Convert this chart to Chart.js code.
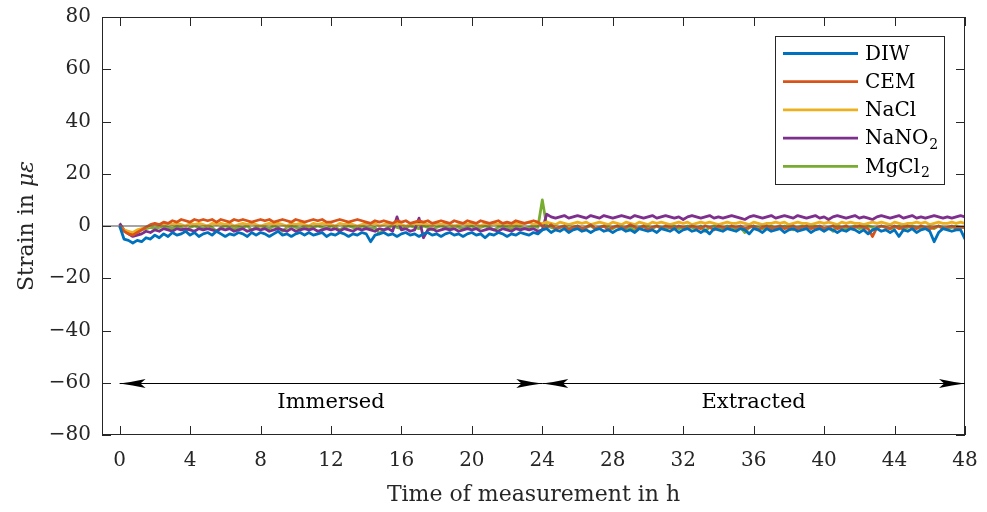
<!DOCTYPE html>
<html lang="en">
<head>
<meta charset="UTF-8">
<title>Strain over time</title>
<script src="https://cdn.jsdelivr.net/npm/chart.js"></script>
<style>
  html, body { margin: 0; padding: 0; background: #fff; }
  #wrap { width: 987px; height: 512px; }
</style>
</head>
<body>
<div id="wrap"><canvas id="myChart" width="987" height="512"></canvas></div>
<script>
// sampling: one reading every quarter hour, 0 h .. 48 h
const sampleStep = 0.25;

const seriesNames = ['DIW', 'CEM', 'NaCl', 'NaNO₂', 'MgCl₂'];

const diw = [
  0, -5, -5.5, -6.5,   -5.5, -6, -4.5, -5,   -3.5, -4.5, -3, -4,   -2.5, -3.5, -3, -2,
  -3.5, -2.5, -4, -3,  -2.5, -3.5, -2, -3,   -4, -3, -3.5, -2.5,   -3, -4, -2.5, -3.5,
  -2.5, -3, -4, -3,    -2, -3.5, -3, -4,     -3, -2.5, -3.5, -2.5, -3.5, -3, -2.5, -4,
  -3, -3.5, -2.5, -3,  -4, -3, -3.5, -2.5,   -3, -6, -3.5, -3,     -2.5, -3.5, -3, -4,
  -3, -2.5, -3.5, -3,  -4, -3, -2.5, -3.5,   -3, -4, -3, -2.5,     -3.5, -3, -4, -3,
  -2.5, -3.5, -3, -4.5, -3, -3.5, -2.5, -3,  -4, -3, -3.5, -2.5,   -3, -3.5, -2.5, -3,
  -1.5, -1, -2.5, -1.5, -2, -1, -2.5, -1.5,  -1, -2, -1.5, -2.5,   -1.5, -1, -2, -1.5,
  -2.5, -1.5, -1, -2,  -1.5, -2.5, -1, -1.5, -2, -1.5, -2.5, -1,   -1.5, -2, -1, -2.5,
  -1.5, -1, -2, -1.5,  -2.5, -1.5, -3, -1,   -1.5, -2, -1, -1.5,   -2, -1, -1.5, -3,
  -1, -1.5, -2.5, -1,  -2, -1.5, -1, -2.5,   -1.5, -1, -2, -1.5,   -1, -2.5, -1.5, -1,
  -2, -1, -1.5, -2.5,  -1.5, -2, -1, -1.5,   -2.5, -1.5, -3, -1.5, -1, -2, -1.5, -2.5,
  -1.5, -4, -1.5, -2,  -1, -2.5, -1.5, -1,   -2, -6, -2.5, -1,     -1.5, -2, -1.5, -1.5,
  -5
];

const cem = [
  0, -2, -3, -3.5,     -2.5, -1.5, -0.5, 0.5, 1, 0.5, 1.5, 1,      2, 1.5, 2.5, 2,
  1.5, 2.5, 2, 2.5,    2, 2.5, 1.5, 2.5,     2, 1.5, 2.5, 2,       2.5, 2, 1.5, 2,
  2.5, 2, 2.5, 1.5,    2, 2.5, 2, 1.5,       2.5, 2, 1.5, 2,       2.5, 2, 2.5, 1.5,
  1.5, 2, 2.5, 2,      1.5, 2, 2.5, 2,       1.5, 1, 2, 1.5,       2, 1.5, 1, 2,
  1.5, 2, 1, 1.5,      2, 1.5, 2, 1,         1.5, 2, 1.5, 1,       2, 1.5, 1, 2,
  1.5, 1, 2, 1.5,      1, 1.5, 2, 1,         1.5, 1, 2, 1.5,       1, 1.5, 2, 1.5,
  0, -0.5, 0.5, -1,    -0.5, 0, -1.5, -0.5,  0, -1, -0.5, 0.5,     -1, -0.5, 0, -1.5,
  -0.5, 0, -1, -0.5,   0.5, -0.5, -1, 0,     -1.5, -0.5, 0, -1,    0, -0.5, -1, 0,
  -0.5, -1, 0, -0.5,   -1, 0, -0.5, -1.5,    0, -0.5, -1, 0,       -0.5, 0, -1, -0.5,
  0, -1.5, -0.5, 0,    -1, -0.5, 0, -1,      -0.5, 0, -1, -0.5,    0, -1, -0.5, 0,
  -1, -0.5, 0, -1,     -0.5, 0, -1, -0.5,    0, -0.5, -1, -4,      -0.5, 0, -0.5, -1,
  0, -1, -0.5, 0,      -0.5, -1, 0, -0.5,    -1, -0.5, 0, -1,      -0.5, 0, -1, -0.5,
  -0.5
];

const nacl = [
  0, -1.5, -2, -2.5,   -1.5, -1, -0.5, 0,    0.5, 0, 0.5, 1,       0.5, 1, 0.5, 0,
  1, 0.5, 1, 0.5,      0, 1, 0.5, 1,         0.5, 1, 0, 0.5,       1, 0.5, 1, 0.5,
  0, 0.5, 1, 0.5,      1, 0.5, 0, 1,         0.5, 1, 0.5, 0,       1, 0.5, 1, 0.5,
  0.5, 0, 1, 0.5,      1, 0.5, 0, 0.5,       1, 0.5, 1, 0,         0.5, 1, 0.5, 1,
  0.5, 0, 0.5, 1,      0.5, 1, 0.5, 0,       1, 0.5, 1, 0.5,       0, 0.5, 1, 0.5,
  1, 0.5, 0, 1,        0.5, 1, 0.5, 1,       0.5, 0, 1, 0.5,       1, 1.5, 0.5, 1,
  1, 1.5, 1, 0.5,      1.5, 1, 0.5, 1,       1.5, 1, 1.5, 0.5,     1, 1.5, 1, 0.5,
  1.5, 1, 0.5, 1.5,    1, 0.5, 1.5, 1,       0.5, 1.5, 1, 1.5,     1, 0.5, 1, 1.5,
  1, 1.5, 0.5, 1,      1.5, 1, 1.5, 1,       0.5, 1, 1.5, 1,       1, 1.5, 1, 0.5,
  1.5, 1, 0.5, 1,      1, 1.5, 1, 1.5,       0.5, 1, 1.5, 1,       1, 0.5, 1, 1.5,
  1, 1.5, 1, 0.5,      1.5, 1, 1.5, 1,       1, 0.5, 1, 1.5,       1, 1.5, 1, 0.5,
  1.5, 1, 0.5, 1,      1, 1.5, 1, 1.5,       0.5, 1, 1.5, 1,       1, 1.5, 1, 1.5,
  1
];

const nano2 = [
  1, -1.5, -3, -4,     -3.5, -3, -2, -2.5,   -1.5, -2, -1, -1.5,   -2, -1, -1.5, -1,
  -1.5, -2, -1, -1.5,  -1, -1.5, -2, -1,     -1.5, -1, -2, -1.5,   -1, -2, -1.5, -1,
  -1.5, -1, -2, -1.5,  -1, -1.5, -2, -1,     -2, -1.5, -1, -1.5,   -1, -2, -1.5, -1,
  -1.5, -1, -2, -1,    -1.5, -2, -1, -1.5,   -1, -1.5, -2, -1,     -1.5, -1, -2, 3.5,
  -1.5, -1, -2, -1.5,  3, -4.5, -1.5, -1,    -2, -1.5, -1, -1.5,   -1, -2, -1.5, -1,
  -1.5, -1, -2, -1.5,  -1, -1.5, -2, -1,     -1.5, -2, -1, -1.5,   -1, -1.5, -1, -2,
  -1.5, 4.5, 3.5, 3,   3.5, 4, 3, 3.5,       4, 3.5, 3, 4,         3.5, 3, 4, 3.5,
  3, 3.5, 4, 3.5,      3, 4, 3.5, 3,         3.5, 4, 3, 3.5,       4, 3.5, 3, 3.5,
  2.5, 3.5, 4, 3.5,    3, 3.5, 4, 3,         3.5, 3, 3.5, 4,       3.5, 3, 2.5, 3.5,
  4, 3.5, 3, 3.5,      4, 3, 3.5, 4,         3.5, 3, 4, 3.5,       3, 3.5, 4, 3,
  3.5, 2.5, 3.5, 4,    3.5, 3, 3.5, 4,       3, 3.5, 3, 2.5,       3.5, 4, 3.5, 3,
  3.5, 4, 3, 3.5,      4, 3, 3.5, 3,         3.5, 4, 3.5, 3,       3.5, 3, 3.5, 4,
  3.5
];

const mgcl2 = [
  0.5, -1.5, -2.5, -3.5, -2.5, -1.5, -1, -0.5, -1, -0.5, 0, -0.5,  -1, 0, -0.5, -2,
  -0.5, 0, -0.5, -1,   0, -0.5, -2, -0.5,    0, -0.5, -1, -0.5,    -0.5, 0, -1.5, -0.5,
  0, -0.5, -1, 0,      -0.5, -2, -0.5, 0,    -0.5, -1, 0, -0.5,    -0.5, 0, -0.5, -1,
  0, -0.5, -1.5, -0.5, 0, -0.5, -1, 0,       -0.5, -1, -0.5, -3,   -1.5, -0.5, 0, -0.5,
  -1, -0.5, 0, -0.5,   -1, 0, -0.5, -1.5,    -0.5, 0, -0.5, -1,    0, -0.5, -1, -0.5,
  0, -1, -0.5, 0,      -0.5, -1.5, -0.5, 0,  -0.5, -1, 0, -0.5,    -1, -0.5, 0, -0.5,
  10, 0, -0.5, -1,     -0.5, 0, -1, -0.5,    0, -1.5, -0.5, 0,     -1, -0.5, 0, -0.5,
  -1, 0, -0.5, -1,     -0.5, -2, -0.5, 0,    -0.5, -1, 0, -0.5,    -1, -0.5, 0, -1,
  -0.5, 0, -0.5, -1,   0, -2, -0.5, 0,       -0.5, -1, 0, -0.5,    -1, -0.5, -2.5, -0.5,
  0, -0.5, -1, -0.5,   0, -1, -0.5, 0,       -0.5, -1.5, -0.5, 0,  -1, -0.5, 0, -0.5,
  -1, -0.5, -2, 0,     -0.5, -1, -0.5, 0,    -1, -0.5, 0, -0.5,    -1, 0, -0.5, -1,
  -0.5, 0, -1.5, -0.5, 0, -0.5, -1, -0.5,    -0.5, -1, 0, -0.5,    -1, -0.5, 0, -0.5,
  -0.5
];

const xTicks = [0, 4, 8, 12, 16, 20, 24, 28, 32, 36, 40, 44, 48];
const yTicks = [-80, -60, -40, -20, 0, 20, 40, 60, 80];

// phase annotation: arrows between bounds, labels below them
const phaseBounds = [0, 24, 48];
const phaseNames = ['Immersed', 'Extracted'];
const arrowLevel = -60;
const phaseLabelLevel = -67.5;

const colors = ['#0072BD', '#D95319', '#EDB120', '#7E2F8E', '#77AC30'];
const axisColor = '#262626';
const serif = "'DejaVu Serif', 'Liberation Serif', serif";

const allSeries = [diw, cem, nacl, nano2, mgcl2];
const times = diw.map((_, i) => i * sampleStep);

const datasets = allSeries.map((vals, k) => ({
  label: seriesNames[k],
  data: vals.map((v, i) => ({ x: times[i], y: v })),
  borderColor: colors[k],
  backgroundColor: colors[k],
  borderWidth: 2.8,
  pointRadius: 0,
  tension: 0,
  borderJoinStyle: 'round',
  fill: false
}));

function minus(v) {
  return String(v).replace('-', '\u2212');
}

// draws "NaNO₂" as NaNO + lowered small 2
function drawSubLabel(ctx, text, x, y) {
  const parts = text.split('₂');
  ctx.font = '20px ' + serif;
  ctx.fillText(parts[0], x, y);
  if (parts.length > 1) {
    const w = ctx.measureText(parts[0]).width;
    ctx.font = '14px ' + serif;
    ctx.fillText('2', x + w + 1, y + 6);
    ctx.font = '20px ' + serif;
  }
}

const decorPlugin = {
  id: 'decor',
  afterDatasetsDraw(chart) {
    const ctx = chart.ctx;
    const a = chart.chartArea;
    const xs = chart.scales.x;
    const ys = chart.scales.y;
    ctx.save();

    // zero line
    ctx.strokeStyle = 'rgba(95,95,95,0.75)';
    ctx.lineWidth = 1.5;
    ctx.beginPath();
    ctx.moveTo(a.left, ys.getPixelForValue(0));
    ctx.lineTo(a.right, ys.getPixelForValue(0));
    ctx.stroke();

    // box and inward ticks
    ctx.strokeStyle = axisColor;
    ctx.lineWidth = 1;
    ctx.strokeRect(a.left + 0.5, a.top + 0.5, a.right - a.left - 1, a.bottom - a.top - 1);
    const tl = 9;
    ctx.beginPath();
    xTicks.forEach(v => {
      const px = Math.round(xs.getPixelForValue(v)) + 0.5;
      ctx.moveTo(px, a.bottom); ctx.lineTo(px, a.bottom - tl);
      ctx.moveTo(px, a.top); ctx.lineTo(px, a.top + tl);
    });
    yTicks.forEach(v => {
      const py = Math.round(ys.getPixelForValue(v)) + 0.5;
      ctx.moveTo(a.left, py); ctx.lineTo(a.left + tl, py);
      ctx.moveTo(a.right, py); ctx.lineTo(a.right - tl, py);
    });
    ctx.stroke();

    // phase arrows
    ctx.strokeStyle = '#000';
    ctx.fillStyle = '#000';
    ctx.lineWidth = 1;
    const ay = Math.round(ys.getPixelForValue(arrowLevel)) + 0.5;
    function head(tipX, dir) {
      const L = 26, W = 4.5;
      ctx.beginPath();
      ctx.moveTo(tipX, ay);
      ctx.quadraticCurveTo(tipX + dir * L * 0.5, ay - W * 0.35, tipX + dir * L, ay - W);
      ctx.lineTo(tipX + dir * L * 0.8, ay);
      ctx.lineTo(tipX + dir * L, ay + W);
      ctx.quadraticCurveTo(tipX + dir * L * 0.5, ay + W * 0.35, tipX, ay);
      ctx.fill();
    }
    for (let i = 0; i < phaseNames.length; i++) {
      const x0 = xs.getPixelForValue(phaseBounds[i]);
      const x1 = xs.getPixelForValue(phaseBounds[i + 1]);
      ctx.beginPath();
      ctx.moveTo(x0, ay); ctx.lineTo(x1, ay);
      ctx.stroke();
      head(x0, 1);
      head(x1, -1);
      ctx.font = '21px ' + serif;
      ctx.fillStyle = '#000';
      ctx.textAlign = 'center';
      ctx.textBaseline = 'middle';
      ctx.fillText(phaseNames[i], (x0 + x1) / 2, ys.getPixelForValue(phaseLabelLevel));
    }

    // legend
    const lx = 775, ly = 36, lw = 169, lh = 148;
    ctx.fillStyle = '#fff';
    ctx.fillRect(lx, ly, lw, lh);
    ctx.strokeStyle = axisColor;
    ctx.lineWidth = 1;
    ctx.strokeRect(lx + 0.5, ly + 0.5, lw, lh);
    ctx.textAlign = 'left';
    ctx.textBaseline = 'middle';
    chart.data.datasets.forEach((ds, i) => {
      const ry = 53.5 + i * 28.2;
      ctx.strokeStyle = ds.borderColor;
      ctx.lineWidth = 2.8;
      ctx.beginPath();
      ctx.moveTo(783, ry); ctx.lineTo(858, ry);
      ctx.stroke();
      ctx.fillStyle = '#000';
      drawSubLabel(ctx, ds.label, 865, ry + 1);
    });

    // axis titles
    ctx.fillStyle = axisColor;
    ctx.font = '22px ' + serif;
    ctx.textAlign = 'center';
    ctx.textBaseline = 'middle';
    ctx.fillText('Time of measurement in h', (a.left + a.right) / 2, 495);

    ctx.translate(27, (a.top + a.bottom) / 2);
    ctx.rotate(-Math.PI / 2);
    const p1 = 'Strain in ', p2 = 'με';
    ctx.font = '22px ' + serif;
    const w1 = ctx.measureText(p1).width;
    ctx.font = 'italic 22px ' + serif;
    const w2 = ctx.measureText(p2).width;
    let sx = -(w1 + w2) / 2;
    ctx.textAlign = 'left';
    ctx.font = '22px ' + serif;
    ctx.fillText(p1, sx, 0);
    ctx.font = 'italic 22px ' + serif;
    ctx.fillText(p2, sx + w1, 0);
    ctx.restore();
  }
};

const ctx = document.getElementById('myChart').getContext('2d');
new Chart(ctx, {
  type: 'line',
  data: { datasets: datasets },
  options: {
    responsive: false,
    animation: false,
    devicePixelRatio: 1,
    parsing: false,
    layout: { padding: { top: 17, right: 22, left: 0, bottom: 0 } },
    plugins: { legend: { display: false }, tooltip: { enabled: false } },
    scales: {
      x: {
        type: 'linear',
        min: -1,
        max: 48,
        afterBuildTicks: s => { s.ticks = xTicks.map(v => ({ value: v })); },
        afterFit: s => { s.height = 77; s.paddingLeft = 0; s.paddingRight = 0; },
        grid: { display: false, drawTicks: false },
        border: { display: false },
        ticks: {
          padding: 14,
          color: axisColor,
          font: { family: serif, size: 20 },
          maxRotation: 0,
          callback: v => minus(v)
        }
      },
      y: {
        type: 'linear',
        min: -80,
        max: 80,
        afterBuildTicks: s => { s.ticks = yTicks.map(v => ({ value: v })); },
        afterFit: s => { s.width = 102; s.paddingTop = 0; s.paddingBottom = 0; },
        grid: { display: false, drawTicks: false },
        border: { display: false },
        ticks: {
          padding: 11,
          color: axisColor,
          font: { family: serif, size: 20 },
          callback: v => minus(v)
        }
      }
    }
  },
  plugins: [decorPlugin]
});
</script>
</body>
</html>
